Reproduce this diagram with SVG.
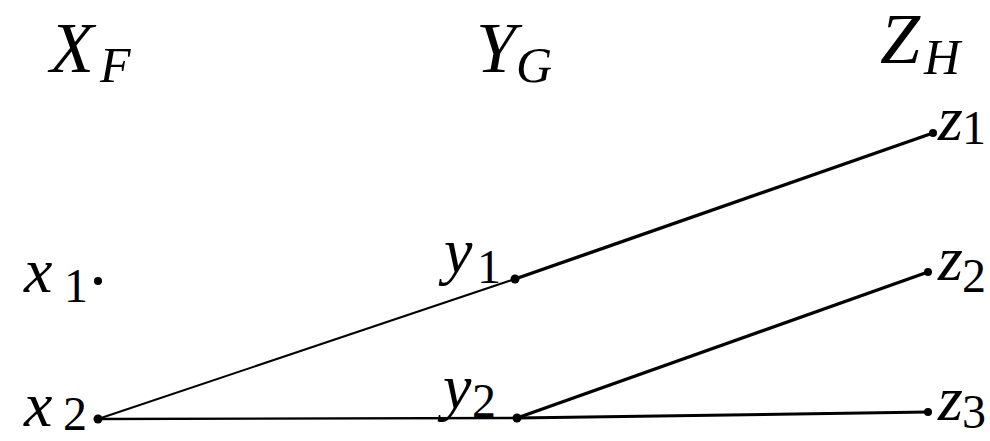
<svg xmlns="http://www.w3.org/2000/svg" width="990" height="441" viewBox="0 0 990 441">
<style>
.it{font-family:"Liberation Serif","DejaVu Serif",serif;font-style:italic;fill:#000}
.rm{font-family:"Liberation Serif","DejaVu Serif",serif;fill:#000}
.big{font-size:72px}
.sub{font-size:50px}
.lc{font-size:64px}
.dg{font-size:48px}
.e{stroke:#000;fill:none;stroke-linecap:round}
.dot{fill:#000}
</style>
<rect width="990" height="441" fill="#fff"/>
<g id="headers">
<text class="it big" x="50" y="72">X</text><text class="it sub" x="100" y="82">F</text>
<text class="it big" x="476" y="72">Y</text><text class="it sub" x="516" y="82">G</text>
<text class="it big" x="880" y="63">Z</text><text class="it sub" x="924" y="74">H</text>
</g>
<g id="connectors">
<line class="e" x1="98" y1="419" x2="515" y2="279" stroke-width="2"/>
<line class="e" x1="515" y1="279" x2="933" y2="133" stroke-width="3.4"/>
<line class="e" x1="98" y1="419" x2="517" y2="418" stroke-width="2.4"/>
<line class="e" x1="517" y1="418" x2="928" y2="412" stroke-width="3"/>
<line class="e" x1="517" y1="418" x2="928" y2="272" stroke-width="3.4"/>
</g>
<g id="x1"><circle class="dot" cx="98" cy="281" r="4"/><text class="it lc" x="24" y="292">x</text><text class="rm dg" x="64" y="302">1</text></g>
<g id="x2"><circle class="dot" cx="98" cy="419" r="4.5"/><text class="it lc" x="24" y="426">x</text><text class="rm dg" x="63" y="430">2</text></g>
<g id="y1"><circle class="dot" cx="515" cy="279" r="4.5"/><text class="it lc" x="444" y="272">y</text><text class="rm dg" x="477" y="283">1</text></g>
<g id="y2"><circle class="dot" cx="517" cy="418" r="4.5"/><text class="it lc" x="443" y="408">y</text><text class="rm dg" x="472" y="417">2</text></g>
<g id="z1"><circle class="dot" cx="933" cy="133" r="4"/><text class="it lc" x="938" y="140">z</text><text class="rm dg" x="962" y="144">1</text></g>
<g id="z2"><circle class="dot" cx="928" cy="272" r="4"/><text class="it lc" x="938" y="280">z</text><text class="rm dg" x="962" y="292">2</text></g>
<g id="z3"><circle class="dot" cx="928" cy="412" r="4"/><text class="it lc" x="938" y="420">z</text><text class="rm dg" x="962" y="428">3</text></g>
</svg>
